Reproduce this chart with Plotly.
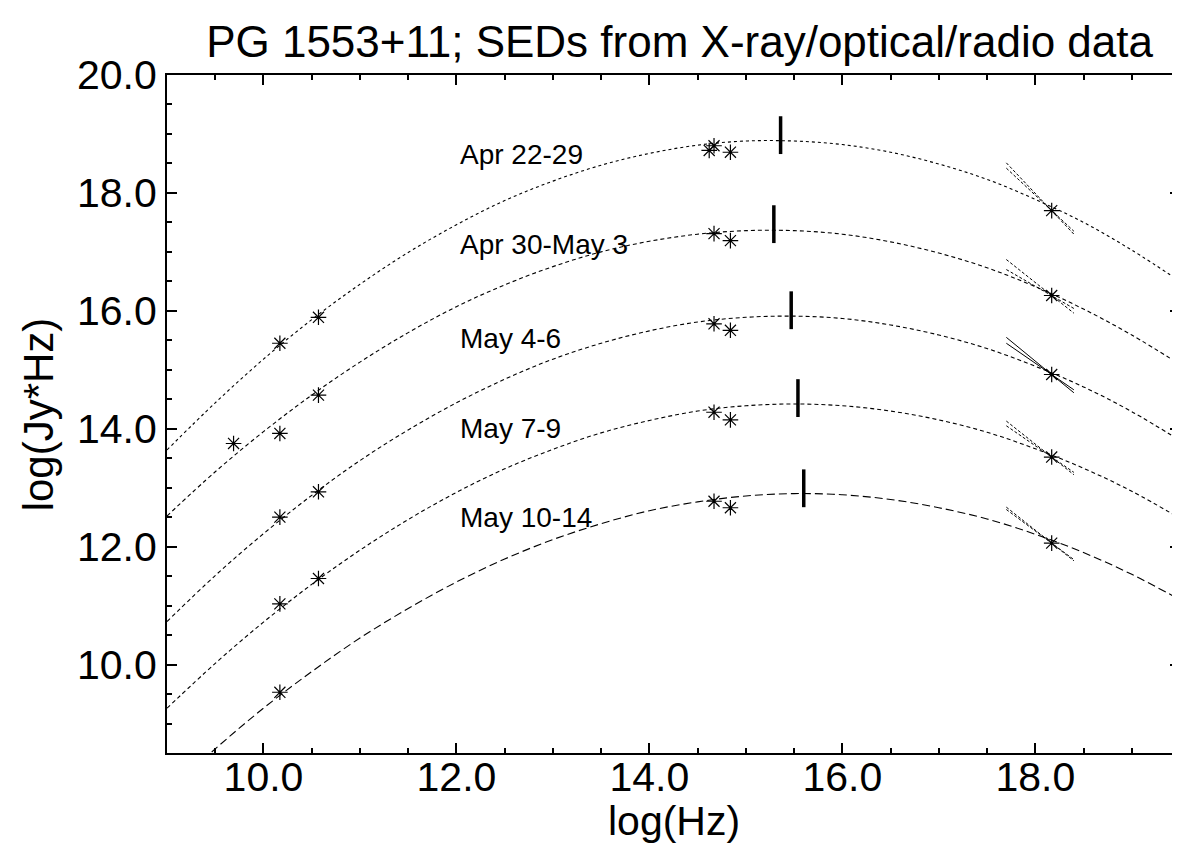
import plotly.graph_objects as go

# ---------------- data ----------------
labels = ["Apr 22-29", "Apr 30-May 3", "May 4-6", "May 7-9", "May 10-14"]
label_x = [12.02, 12.02, 12.02, 12.02, 12.02]
label_y = [18.65, 17.12, 15.53, 14.01, 12.49]

# sampled points along each fitted SED curve
curve_x = [9.0, 9.5, 10.0, 10.5, 11.0, 11.5, 12.0, 12.5, 13.0, 13.5, 14.0,
           14.5, 15.0, 15.5, 16.0, 16.5, 17.0, 17.5, 18.0, 18.5, 19.0, 19.5]
curve_apr22 = [13.64, 14.44, 15.18, 15.85, 16.45, 16.99, 17.46, 17.87, 18.20, 18.47, 18.67,
               18.81, 18.88, 18.88, 18.82, 18.69, 18.49, 18.23, 17.89, 17.50, 17.03, 16.50]
curve_apr30 = [12.52, 13.27, 13.95, 14.57, 15.13, 15.63, 16.07, 16.44, 16.75, 17.00, 17.18,
               17.30, 17.36, 17.36, 17.30, 17.17, 16.98, 16.73, 16.41, 16.03, 15.59, 15.09]
curve_may4 = [10.73, 11.51, 12.22, 12.87, 13.46, 13.98, 14.44, 14.84, 15.18, 15.45, 15.66,
              15.81, 15.89, 15.91, 15.87, 15.76, 15.59, 15.36, 15.06, 14.71, 14.29, 13.80]
curve_may7 = [9.26, 10.02, 10.72, 11.36, 11.94, 12.46, 12.92, 13.32, 13.65, 13.93, 14.14,
              14.30, 14.39, 14.42, 14.39, 14.30, 14.15, 13.94, 13.66, 13.33, 12.94, 12.48]
curve_may10 = [7.83, 8.57, 9.26, 9.88, 10.45, 10.95, 11.40, 11.79, 12.12, 12.39, 12.61,
               12.76, 12.86, 12.90, 12.88, 12.80, 12.66, 12.47, 12.21, 11.90, 11.53, 11.10]
curves = [curve_apr22, curve_apr30, curve_may4, curve_may7, curve_may10]
curve_dash = ["dot", "4px,3px", "4px,3px", "4px,3px", "8px,4px"]

# measured points (radio, optical, X-ray)
pts_x = [9.69, 10.17, 10.57, 14.62, 14.67, 14.84, 18.17,
         10.17, 10.57, 14.67, 14.84, 18.17,
         10.17, 10.57, 14.67, 14.84, 18.17,
         10.17, 10.57, 14.67, 14.84, 18.17,
         10.17, 14.67, 14.84, 18.17]
pts_y = [13.75, 15.45, 15.89, 18.72, 18.80, 18.69, 17.70,
         13.92, 14.57, 17.31, 17.19, 16.26,
         12.50, 12.93, 15.78, 15.67, 14.92,
         11.03, 11.46, 14.28, 14.15, 13.52,
         9.53, 12.77, 12.66, 12.06]

# synchrotron peak markers
peak_x = [15.36, 15.29, 15.47, 15.54, 15.60]
peak_y = [18.98, 17.47, 16.01, 14.52, 12.99]

# X-ray spectral "bow-ties": two lines between these frequencies
bow_x0, bow_x1 = 17.70, 18.40
bow_a_y0 = [18.51, 16.87, 15.55, 14.13, 12.67]
bow_a_y1 = [17.30, 15.96, 14.61, 13.22, 11.76]
bow_b_y0 = [18.42, 16.70, 15.45, 14.05, 12.63]
bow_b_y1 = [17.35, 16.04, 14.66, 13.26, 11.78]
bow_dash = ["3px,2px", "3px,2px", "solid", "3px,2px", "3px,2px"]

title = "PG 1553+11; SEDs from X-ray/optical/radio data"
x_title = "log(Hz)"
y_title = "log(Jy*Hz)"

FONT = "Liberation Sans, Arial, sans-serif"

fig = go.Figure()

for cy, dsh in zip(curves, curve_dash):
    fig.add_trace(go.Scatter(x=curve_x, y=cy, mode="lines", line_shape="spline",
                             line=dict(color="black", width=1.1, dash=dsh),
                             hoverinfo="skip", showlegend=False))

for i in range(len(bow_a_y0)):
    bx = [bow_x0, bow_x1, None, bow_x0, bow_x1]
    by = [bow_a_y0[i], bow_a_y1[i], None, bow_b_y0[i], bow_b_y1[i]]
    fig.add_trace(go.Scatter(x=bx, y=by, mode="lines",
                             line=dict(color="black", width=1, dash=bow_dash[i]),
                             hoverinfo="skip", showlegend=False))

fig.add_trace(go.Scatter(x=pts_x, y=pts_y, mode="markers",
                         marker=dict(symbol="asterisk-open", size=13, color="black",
                                     line=dict(color="black", width=1.2)),
                         showlegend=False))

fig.add_trace(go.Scatter(x=peak_x, y=peak_y, mode="markers",
                         marker=dict(symbol="line-ns-open", size=27, color="black",
                                     line=dict(color="black", width=3.5)),
                         showlegend=False))

for t, lx, ly in zip(labels, label_x, label_y):
    fig.add_annotation(x=lx, y=ly, text=t, showarrow=False, xanchor="left",
                       yanchor="middle", font=dict(family=FONT, size=28, color="black"))

fig.add_annotation(xref="paper", yref="paper", x=0.5, y=-0.101, text=x_title,
                   showarrow=False, xanchor="center", yanchor="middle",
                   font=dict(family=FONT, size=41, color="black"))
fig.add_annotation(xref="paper", yref="paper", x=-0.127, y=0.5, text=y_title,
                   textangle=-90, showarrow=False, xanchor="center", yanchor="middle",
                   font=dict(family=FONT, size=42, color="black"))

axis_common = dict(showline=True, linecolor="black", linewidth=2, mirror="allticks",
                   ticks="inside", ticklen=10, tickwidth=2, tickcolor="black",
                   showgrid=False, zeroline=False, tickformat=".1f",
                   tickfont=dict(family=FONT, size=41, color="black"),
                   minor=dict(ticks="inside", ticklen=5, tickwidth=1.5, tickcolor="black",
                              dtick=0.5, showgrid=False))

fig.update_xaxes(range=[9.0, 19.5], dtick=2, tick0=10, ticklabelstandoff=-13, **axis_common)
fig.update_yaxes(range=[8.5, 20.0], dtick=2, tick0=10, **axis_common)

fig.update_layout(
    width=1180, height=853,
    margin=dict(l=159, r=6, t=67, b=108),
    paper_bgcolor="white", plot_bgcolor="white",
    title=dict(text=title, xref="paper", x=0.506, xanchor="center", y=0.961, yanchor="middle",
               font=dict(family=FONT, size=44, color="black")),
    font=dict(family=FONT, color="black"),
)

fig.write_html("out.html")
